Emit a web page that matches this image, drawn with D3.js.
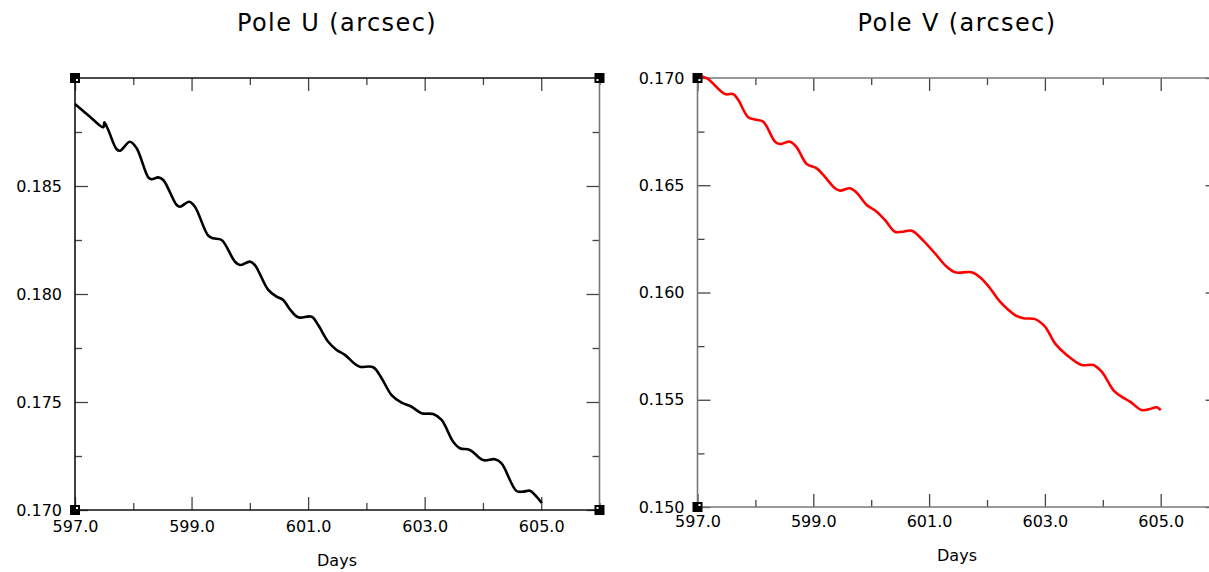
<!DOCTYPE html>
<html>
<head>
<meta charset="utf-8">
<script src="https://cdn.jsdelivr.net/npm/d3@7"></script>
<style>
  body { margin: 0; background: #fff; }
  text { font-family: 'DejaVu Sans', sans-serif; fill: #000; }
</style>
</head>
<body>
<div id="chart"></div>
<script>
// Pole U (arcsec)
const uDays = [597.000, 597.257, 597.485, 597.503, 597.571, 597.715, 597.772, 597.943, 598.058,
  598.257, 598.316, 598.429, 598.515, 598.744, 598.801, 598.961, 599.058, 599.286, 599.372,
  599.516, 599.744, 599.830, 600.002, 600.087, 600.316, 600.460, 600.573, 600.688, 600.830,
  601.060, 601.173, 601.345, 601.489, 601.631, 601.803, 601.889, 602.117, 602.261, 602.432,
  602.604, 602.775, 602.947, 603.146, 603.290, 603.489, 603.604, 603.775, 604.003, 604.204,
  604.319, 604.576, 604.690, 604.805, 604.919, 605.010]
const uValues = [0.18880, 0.18821, 0.18772, 0.18795, 0.18759, 0.18670, 0.18663, 0.18705, 0.18675,
  0.18540, 0.18531, 0.18540, 0.18528, 0.18412, 0.18404, 0.18427, 0.18404, 0.18270, 0.18258,
  0.18250, 0.18150, 0.18134, 0.18150, 0.18134, 0.18019, 0.17988, 0.17972, 0.17929, 0.17892,
  0.17895, 0.17856, 0.17779, 0.17741, 0.17718, 0.17676, 0.17663, 0.17661, 0.17610, 0.17532,
  0.17497, 0.17478, 0.17448, 0.17444, 0.17417, 0.17316, 0.17286, 0.17278, 0.17231, 0.17235,
  0.17216, 0.17088, 0.17085, 0.17089, 0.17062, 0.17032]

// Pole V (arcsec)
const vDays = [597.000, 597.159, 597.475, 597.618, 597.705, 597.877, 597.993, 598.136, 598.339,
  598.425, 598.598, 598.713, 598.886, 599.059, 599.173, 599.375, 599.461, 599.634, 599.750,
  599.922, 600.095, 600.238, 600.411, 600.527, 600.700, 600.900, 601.102, 601.304, 601.447,
  601.736, 601.879, 602.052, 602.225, 602.484, 602.627, 602.829, 603.002, 603.174, 603.376,
  603.636, 603.836, 603.981, 604.181, 604.297, 604.470, 604.672, 604.815, 604.931, 605.000]
const vValues = [0.17010, 0.16999, 0.16925, 0.16925, 0.16897, 0.16817, 0.16807, 0.16796, 0.16703,
  0.16692, 0.16703, 0.16677, 0.16599, 0.16579, 0.16548, 0.16486, 0.16475, 0.16486, 0.16465,
  0.16408, 0.16377, 0.16338, 0.16283, 0.16283, 0.16288, 0.16242, 0.16182, 0.16120, 0.16094,
  0.16094, 0.16071, 0.16020, 0.15957, 0.15895, 0.15880, 0.15876, 0.15841, 0.15763, 0.15709,
  0.15662, 0.15662, 0.15631, 0.15545, 0.15519, 0.15491, 0.15452, 0.15457, 0.15465, 0.15452]

const xMajorTicks = [597, 599, 601, 603, 605]
const xMinorTicks = [598, 600, 602, 604, 606]
const uMajorTicks = [0.170, 0.175, 0.180, 0.185]
const uMinorTicks = [0.1725, 0.1775, 0.1825, 0.1875]
const vMajorTicks = [0.150, 0.155, 0.160, 0.165, 0.170]
const vMinorTicks = [0.1525, 0.1575, 0.1625, 0.1675]

const width = 1209
const height = 572

const svg = d3
  .select('#chart')
  .append('svg')
  .attr('width', width)
  .attr('height', height)

function drawPanel(p) {
  const x = d3.scaleLinear().domain([597, 606]).range([p.left, p.right])
  const y = d3.scaleLinear().domain(p.yDomain).range([p.bottom, p.top])
  const g = svg.append('g')

  // title and x label
  g.append('text')
    .attr('x', p.cx)
    .attr('y', 31)
    .attr('text-anchor', 'middle')
    .attr('font-size', 24)
    .attr('letter-spacing', 1.4)
    .text(p.title)

  g.append('text')
    .attr('x', p.cx)
    .attr('y', p.daysY)
    .attr('text-anchor', 'middle')
    .attr('font-size', 16)
    .text('Days')

  const fmtX = d3.format('.1f')
  const fmtY = d3.format('.3f')

  // bottom axis, ticks pointing in
  g.append('g')
    .attr('transform', `translate(0,${p.bottom})`)
    .call(d3.axisBottom(x).tickValues(xMajorTicks).tickSizeInner(-13).tickSizeOuter(0).tickPadding(p.xPad).tickFormat(fmtX))
  g.append('g')
    .attr('transform', `translate(0,${p.bottom})`)
    .call(d3.axisBottom(x).tickValues(xMinorTicks).tickSizeInner(-7).tickSizeOuter(0).tickFormat(''))
  // top axis
  g.append('g')
    .attr('transform', `translate(0,${p.top})`)
    .call(d3.axisTop(x).tickValues(xMajorTicks).tickSizeInner(-13).tickSizeOuter(0).tickFormat(''))
  g.append('g')
    .attr('transform', `translate(0,${p.top})`)
    .call(d3.axisTop(x).tickValues(xMinorTicks).tickSizeInner(-7).tickSizeOuter(0).tickFormat(''))
  // left axis
  g.append('g')
    .attr('transform', `translate(${p.left},0)`)
    .call(d3.axisLeft(y).tickValues(p.yMajor).tickSizeInner(-13).tickSizeOuter(0).tickPadding(13).tickFormat(fmtY))
  g.append('g')
    .attr('transform', `translate(${p.left},0)`)
    .call(d3.axisLeft(y).tickValues(p.yMinor).tickSizeInner(-7).tickSizeOuter(0).tickFormat(''))
  // right axis
  g.append('g')
    .attr('transform', `translate(${p.right},0)`)
    .call(d3.axisRight(y).tickValues(p.yMajor).tickSizeInner(-13).tickSizeOuter(0).tickFormat(''))
  g.append('g')
    .attr('transform', `translate(${p.right},0)`)
    .call(d3.axisRight(y).tickValues(p.yMinor).tickSizeInner(-7).tickSizeOuter(0).tickFormat(''))

  g.selectAll('.domain').remove()
  g.selectAll('.tick line').attr('stroke', '#444').attr('stroke-width', 1.3)
  g.selectAll('.tick text')
    .attr('font-size', 16)
    .attr('font-family', "'DejaVu Sans', sans-serif")
    .attr('fill', '#000')

  // frame
  const frame = [
    [p.left, p.top, p.right, p.top, p.frameColor],
    [p.left, p.bottom, p.right, p.bottom, p.frameColor],
    [p.left, p.top, p.left, p.bottom, p.leftColor],
    [p.right, p.top, p.right, p.bottom, '#777']
  ]
  g.selectAll('line.frame')
    .data(frame)
    .enter()
    .append('line')
    .attr('class', 'frame')
    .attr('x1', d => d[0])
    .attr('y1', d => d[1])
    .attr('x2', d => d[2])
    .attr('y2', d => d[3])
    .attr('stroke', d => d[4])
    .attr('stroke-width', 1.6)

  // data line
  const line = d3
    .line()
    .x((d, i) => x(p.days[i]))
    .y(d => y(d))
    .curve(d3.curveCatmullRom.alpha(0.5))

  g.append('path')
    .datum(p.values)
    .attr('d', line)
    .attr('fill', 'none')
    .attr('stroke', p.color)
    .attr('stroke-width', 2.6)
    .attr('stroke-linejoin', 'round')

  // corner markers
  const corners = [
    [p.left, p.top, 1, 1],
    [p.left, p.bottom, 1, -1],
    [p.right, p.top, -1, 1],
    [p.right, p.bottom, -1, -1]
  ]
  const cg = g.selectAll('g.corner')
    .data(corners)
    .enter()
    .append('g')
    .attr('class', 'corner')
    .attr('transform', d => `translate(${d[0]},${d[1]})`)
  cg.append('rect')
    .attr('x', -5)
    .attr('y', -5)
    .attr('width', 10)
    .attr('height', 10)
    .attr('fill', '#000')
  cg.append('rect')
    .attr('x', d => (d[2] > 0 ? 1 : -3))
    .attr('y', d => (d[3] > 0 ? 1 : -3))
    .attr('width', 2)
    .attr('height', 2)
    .attr('fill', '#fff')
}

drawPanel({
  title: 'Pole U (arcsec)',
  cx: 337,
  daysY: 566,
  left: 75,
  right: 599.5,
  top: 78,
  bottom: 510,
  xPad: 11,
  yDomain: [0.170, 0.190],
  yMajor: uMajorTicks,
  yMinor: uMinorTicks,
  days: uDays,
  values: uValues,
  color: '#000',
  frameColor: '#111',
  leftColor: '#111'
})

drawPanel({
  title: 'Pole V (arcsec)',
  cx: 957,
  daysY: 561,
  left: 697.5,
  right: 1218.6,
  top: 78,
  bottom: 507,
  xPad: 9,
  yDomain: [0.150, 0.170],
  yMajor: vMajorTicks,
  yMinor: vMinorTicks,
  days: vDays,
  values: vValues,
  color: '#ff0000',
  frameColor: '#777',
  leftColor: '#777'
})
</script>
</body>
</html>
